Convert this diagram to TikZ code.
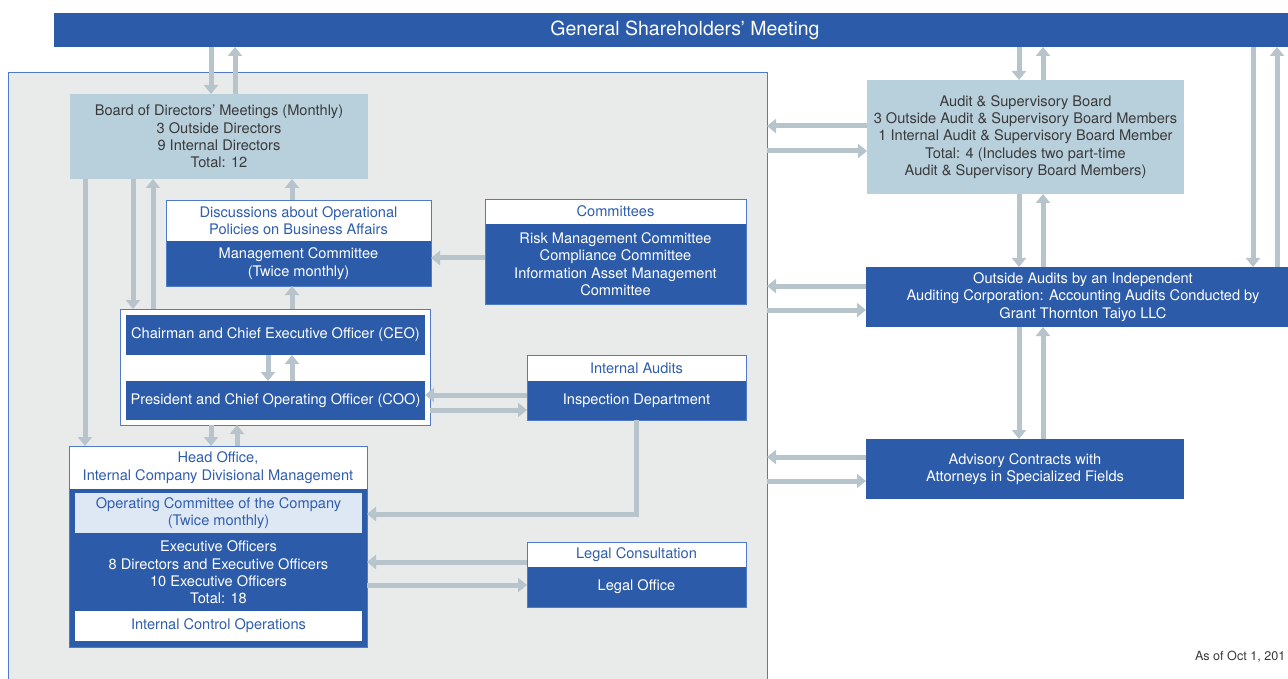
\documentclass[tikz,border=0pt]{standalone}
\usepackage{fontspec}
\setmainfont{TeX Gyre Heros}
\usetikzlibrary{arrows.meta}
\definecolor{cblue}{HTML}{2C5BA9}
\definecolor{cboard}{HTML}{B8CFDC}
\definecolor{cbg}{HTML}{E9EBEA}
\definecolor{carrow}{HTML}{B8C4CB}
\definecolor{cop}{HTML}{DEE8F5}
\definecolor{cborder}{HTML}{4F7BC8}
\definecolor{ctxt}{HTML}{2F5EAE}
\definecolor{cdark}{HTML}{3A3A3A}
\newcommand\dfont{\fontsize{14.6}{17.4}\selectfont}
\begin{document}
\begin{tikzpicture}[x=1pt,y=-1pt,
  box/.style={inner sep=0pt, outer sep=0pt, align=center, font=\dfont},
  bluebox/.style={box, fill=cblue, text=white},
  hdr/.style={box, fill=white, text=ctxt},
  lightbox/.style={box, fill=cboard, text=cdark},
  frame/.style={draw=cborder, line width=0.9pt},
  arr/.style={draw=carrow, line width=5pt, -{Triangle[width=14pt,length=9pt]}}]
\useasboundingbox (0,0) rectangle (1288,679);
\clip (0,0) rectangle (1288,679);
\fill[white] (0,0) rectangle (1288,679);

% General shareholders
\node[box, fill=cblue, text=white, font=\fontsize{19.5}{22}\selectfont, minimum width=1262pt, minimum height=34pt] (gsm) at (685,30) {General Shareholders’ Meeting};

% big gray area
\node[box, fill=cbg, draw=cborder, line width=0.9pt, minimum width=759pt, minimum height=628pt] (bigbox) at (387.5,386) {};

% Board
\node[lightbox, minimum width=298pt, minimum height=85pt] (board) at (219,136.5) {Board of Directors’ Meetings (Monthly)\\3 Outside Directors\\9 Internal Directors\\Total: 12};

% Discussions / Management committee
\node[hdr, minimum width=265pt, minimum height=41pt] (disc) at (298.5,220.5) {Discussions about Operational\\Policies on Business Affairs};
\node[bluebox, minimum width=265pt, minimum height=45pt] (mgmt) at (298.5,263.5) {Management Committee\\(Twice monthly)};
\draw[frame] (disc.north west) rectangle (mgmt.south east);

% Committees
\node[hdr, minimum width=261pt, minimum height=25pt] (comhdr) at (615.5,211.5) {Committees};
\node[bluebox, minimum width=261pt, minimum height=80pt] (com) at (615.5,264) {Risk Management Committee\\Compliance Committee\\Information Asset Management\\Committee};
\draw[frame] (comhdr.north west) rectangle (com.south east);

% CEO group
\node[box, fill=white, draw=cborder, line width=0.9pt, minimum width=310pt, minimum height=116pt] (ceogroup) at (275,367) {};
\node[bluebox, minimum width=299pt, minimum height=40pt] (ceo) at (275.5,335) {Chairman and Chief Executive Officer (CEO)};
\node[bluebox, minimum width=299pt, minimum height=39pt] (coo) at (275.5,400.5) {President and Chief Operating Officer (COO)};

% Internal audits
\node[hdr, minimum width=219pt, minimum height=26pt] (iahdr) at (636.5,368) {Internal Audits};
\node[bluebox, minimum width=219pt, minimum height=39pt] (insp) at (636.5,400.5) {Inspection Department};
\draw[frame] (iahdr.north west) rectangle (insp.south east);

% Head office
\node[hdr, minimum width=298pt, minimum height=43pt] (head) at (218,467.5) {Head Office,\\Internal Company Divisional Management};
\node[box, fill=cblue, minimum width=298pt, minimum height=158pt] (headbody) at (218,568) {};
\draw[frame] (head.north west) rectangle (headbody.south east);
\node[box, fill=cop, text=ctxt, minimum width=287pt, minimum height=40pt] (opcomm) at (218.5,513) {Operating Committee of the Company\\(Twice monthly)};
\node[box, text=white] (exec) at (218.5,572.5) {Executive Officers\\8 Directors and Executive Officers\\10 Executive Officers\\Total: 18};
\node[box, fill=white, text=ctxt, minimum width=287pt, minimum height=30pt] (icop) at (218.5,626) {Internal Control Operations};

% Legal
\node[hdr, minimum width=219pt, minimum height=25pt] (legalhdr) at (636.5,554.5) {Legal Consultation};
\node[bluebox, minimum width=219pt, minimum height=40pt] (legal) at (636.5,587) {Legal Office};
\draw[frame] (legalhdr.north west) rectangle (legal.south east);

% Right side
\node[lightbox, minimum width=317pt, minimum height=114pt] (asb) at (1025.5,137) {Audit \& Supervisory Board\\3 Outside Audit \& Supervisory Board Members\\1 Internal Audit \& Supervisory Board Member\\Total: 4 (Includes two part-time\\Audit \& Supervisory Board Members)};
\node[bluebox, minimum width=434pt, minimum height=60pt] (oa) at (1083,297) {Outside Audits by an Independent\\Auditing Corporation: Accounting Audits Conducted by\\Grant Thornton Taiyo LLC};
\node[bluebox, minimum width=318pt, minimum height=60pt] (adv) at (1025,469) {Advisory Contracts with\\Attorneys in Specialized Fields};

\node[box, anchor=west, text=cdark, font=\fontsize{12.6}{14}\selectfont] (asof) at (1195,657) {As of Oct 1, 201};

% Arrows left side
\draw[arr] ([xshift=-474pt]gsm.south) -- ([xshift=-8pt]board.north);
\draw[arr] ([xshift=16pt]board.north) -- ([xshift=-450pt]gsm.south);
\draw[arr] ([xshift=-6.5pt]disc.north) -- ([xshift=73pt]board.south);
\draw[arr] ([xshift=17pt]ceogroup.north) -- ([xshift=-6.5pt]mgmt.south);
\draw[arr] ([xshift=-86pt]board.south) -- ([xshift=-142pt]ceogroup.north);
\draw[arr] ([xshift=-122pt]ceogroup.north) -- ([xshift=-66pt]board.south);
\draw[arr] ([xshift=-134pt]board.south) -- ([xshift=-133pt]head.north);
\draw[arr] ([yshift=6pt]com.west) -- ([yshift=5.5pt]mgmt.east);
\draw[arr] ([xshift=-7.5pt]ceo.south) -- ([xshift=-7.5pt]coo.north);
\draw[arr] ([xshift=16.5pt]coo.north) -- ([xshift=16.5pt]ceo.south);
\draw[arr] ([yshift=5.5pt]insp.west) -- ([yshift=5.5pt]coo.east);
\draw[arr] ([yshift=-43pt]ceogroup.east) -- ([yshift=-9.5pt]insp.west);
\draw[arr] ([xshift=-64pt]ceogroup.south) -- ([xshift=-7pt]head.north);
\draw[arr] ([xshift=19pt]head.north) -- ([xshift=-38pt]ceogroup.south);
\draw[arr] (insp.south) |- ([yshift=54pt]headbody.east);
\draw[arr] ([yshift=-7.5pt]legalhdr.west) -- ([yshift=6pt]headbody.east);
\draw[arr] ([yshift=-17pt]headbody.east) -- ([yshift=2pt]legal.west);

% Arrows right side
\draw[arr] ([xshift=334pt]gsm.south) -- ([xshift=-6.5pt]asb.north);
\draw[arr] ([xshift=17.5pt]asb.north) -- ([xshift=358pt]gsm.south);
\draw[arr] ([yshift=11pt]asb.west) -- ([yshift=260pt]bigbox.east);
\draw[arr] ([yshift=235pt]bigbox.east) -- ([yshift=-14pt]asb.west);
\draw[arr] ([xshift=-6.5pt]asb.south) -- ([xshift=-64pt]oa.north);
\draw[arr] ([xshift=-40pt]oa.north) -- ([xshift=17.5pt]asb.south);
\draw[arr] ([xshift=568pt]gsm.south) -- ([xshift=170pt]oa.north);
\draw[arr] ([xshift=194pt]oa.north) -- ([xshift=592pt]gsm.south);
\draw[arr] ([yshift=11pt]oa.west) -- ([yshift=100pt]bigbox.east);
\draw[arr] ([yshift=76pt]bigbox.east) -- ([yshift=-13pt]oa.west);
\draw[arr] ([xshift=-64pt]oa.south) -- ([xshift=-6pt]adv.north);
\draw[arr] ([xshift=18pt]adv.north) -- ([xshift=-40pt]oa.south);
\draw[arr] ([yshift=12pt]adv.west) -- ([yshift=-71pt]bigbox.east);
\draw[arr] ([yshift=-95pt]bigbox.east) -- ([yshift=-12pt]adv.west);
\end{tikzpicture}
\end{document}
